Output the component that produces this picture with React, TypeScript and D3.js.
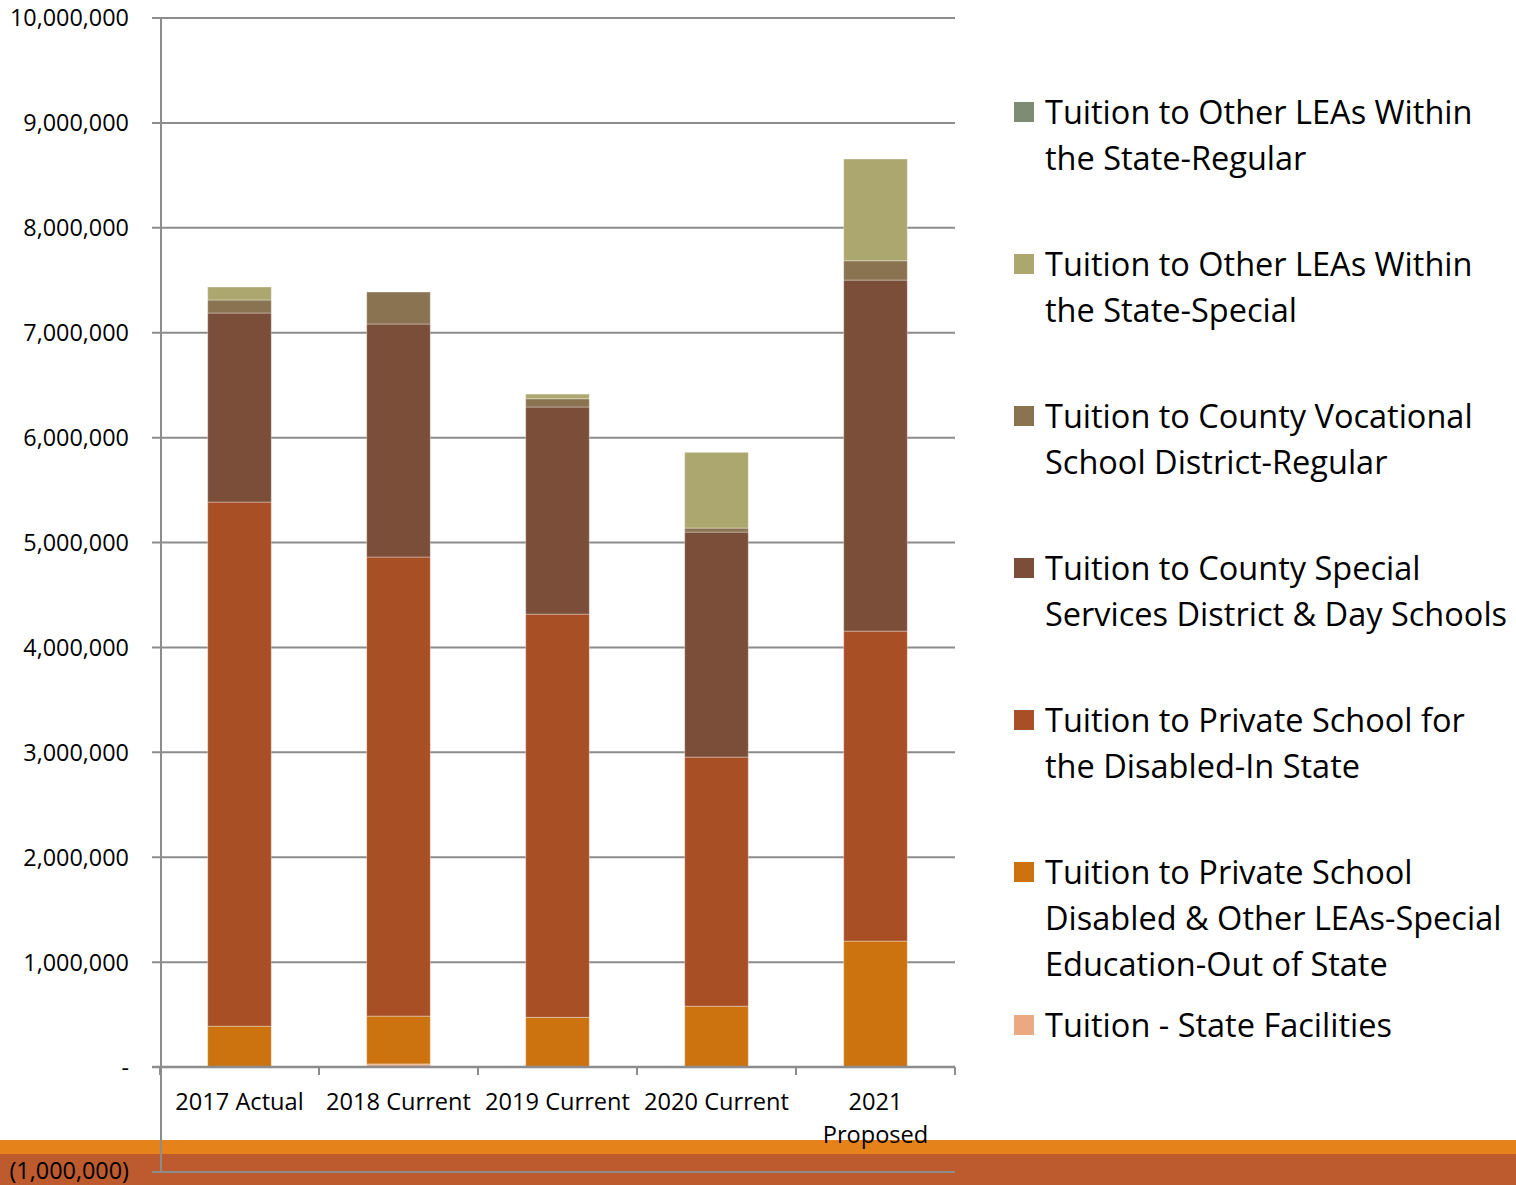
import React from "react";
import * as d3 from "d3";

const categories = ["2017 Actual", "2018 Current", "2019 Current", "2020 Current", "2021 Proposed"];
const categoryLines = [["2017 Actual"], ["2018 Current"], ["2019 Current"], ["2020 Current"], ["2021", "Proposed"]];

const stateFacilities = [0, 30000, 0, 0, 0];
const outOfState = [390000, 456000, 474000, 581000, 1201000];
const privateInState = [4996000, 4376000, 3844000, 2374000, 2955000];
const countySpecial = [1802000, 2221000, 1974000, 2145000, 3346000];
const countyVocational = [124000, 305000, 79000, 38000, 184000];
const leasSpecial = [124000, 0, 44000, 722000, 970000];
const leasRegular = [0, 0, 0, 0, 0];

const yTicks = [-1000000, 0, 1000000, 2000000, 3000000, 4000000, 5000000, 6000000, 7000000, 8000000, 9000000, 10000000];

// bottom to top stack order
const seriesKeys = ["facilities", "outState", "inState", "countySpecial", "vocational", "leasSpecial", "leasRegular"];
const seriesValues: Record<string, number[]> = {
  facilities: stateFacilities,
  outState: outOfState,
  inState: privateInState,
  countySpecial: countySpecial,
  vocational: countyVocational,
  leasSpecial: leasSpecial,
  leasRegular: leasRegular,
};
const seriesColors: Record<string, string> = {
  facilities: "#eba983",
  outState: "#cc730f",
  inState: "#a84f26",
  countySpecial: "#7a4e38",
  vocational: "#8a7350",
  leasSpecial: "#aca76f",
  leasRegular: "#7e8c73",
};
// legend order (top to bottom) with wrapped lines
const legendKeys = ["leasRegular", "leasSpecial", "vocational", "countySpecial", "inState", "outState", "facilities"];
const legendLines: Record<string, string[]> = {
  leasRegular: ["Tuition to Other LEAs Within", "the State-Regular"],
  leasSpecial: ["Tuition to Other LEAs Within", "the State-Special"],
  vocational: ["Tuition to County Vocational", "School District-Regular"],
  countySpecial: ["Tuition to County Special", "Services District & Day Schools"],
  inState: ["Tuition to Private School for", "the Disabled-In State"],
  outState: ["Tuition to Private School", "Disabled & Other LEAs-Special", "Education-Out of State"],
  facilities: ["Tuition - State Facilities"],
};
const legendTops = [112, 264, 416, 568, 720, 872, 1025];

const FONT = "'Open Sans', Lato, sans-serif";

export default function App() {
  const W = 1516;
  const H = 1185;
  const plotLeft = 160;
  const plotRight = 955;
  const y = d3.scaleLinear().domain([-1000000, 10000000]).range([1172, 18]);
  const x = d3.scaleBand<string>().domain(categories).range([plotLeft, plotRight]).paddingInner(0.6).paddingOuter(0.3);
  const bandStep = x.step();

  const table = categories.map((c, i) => {
    const row: any = { cat: c };
    seriesKeys.forEach((k) => (row[k] = seriesValues[k][i]));
    return row;
  });
  const stack = d3.stack<any>().keys(seriesKeys)(table);
  const fmt = d3.format(",");
  const tickLabel = (v: number) => (v === 0 ? "-" : v < 0 ? `(${fmt(-v)})` : fmt(v));
  const grid = "#8c8c8c";
  const boundaries = d3.range(categories.length + 1).map((i) => plotLeft + i * bandStep);

  return (
    <svg width={W} height={H} style={{ position: "absolute", left: 0, top: 0, display: "block" }} fontFamily={FONT}>
      <rect x={0} y={0} width={W} height={H} fill="#ffffff" />
      <rect x={0} y={1140} width={W} height={14} fill="#e5831a" />
      <rect x={0} y={1154} width={W} height={H - 1154} fill="#bd5a2e" />

      {yTicks.map((t) => (
        <g key={t}>
          <line x1={152} x2={plotRight} y1={y(t)} y2={y(t)} stroke={grid} strokeWidth={2} />
          <text x={129} y={y(t)} dy={t < 0 ? "0.3em" : "0.36em"} textAnchor="end" fontSize={23.4} fill="#000">
            {tickLabel(t)}
          </text>
        </g>
      ))}

      {stack.map((s) => (
        <g key={s.key} fill={seriesColors[s.key]}>
          {s.map((d, i) =>
            d[1] - d[0] > 0 ? (
              <rect
                key={i}
                x={x(categories[i])!}
                y={y(d[1])}
                width={x.bandwidth()}
                height={y(d[0]) - y(d[1])}
                stroke="rgba(255,255,255,0.35)"
                strokeWidth={1}
              />
            ) : null
          )}
        </g>
      ))}

      <line x1={161} x2={161} y1={18} y2={1172} stroke={grid} strokeWidth={2} />
      <line x1={152} x2={plotRight} y1={y(0)} y2={y(0)} stroke={grid} strokeWidth={2.5} />
      {boundaries.map((b, i) => (
        <line key={i} x1={b} x2={b} y1={y(0)} y2={y(0) + 8} stroke={grid} strokeWidth={2} />
      ))}

      {categoryLines.map((lines, i) => (
        <text key={i} textAnchor="middle" fontSize={23.6} fill="#000">
          {lines.map((ln, j) => (
            <tspan key={j} x={x(categories[i])! + x.bandwidth() / 2} y={1102 + j * 33} dy="0.36em">
              {ln}
            </tspan>
          ))}
        </text>
      ))}

      {legendKeys.map((k, i) => (
        <g key={k}>
          <rect x={1014} y={legendTops[i] - 10} width={20} height={20} fill={seriesColors[k]} />
          <text fontSize={32.5} fill="#000">
            {legendLines[k].map((ln, j) => (
              <tspan key={j} x={1045} y={legendTops[i] + j * 46} dy="0.36em">
                {ln}
              </tspan>
            ))}
          </text>
        </g>
      ))}
    </svg>
  );
}
